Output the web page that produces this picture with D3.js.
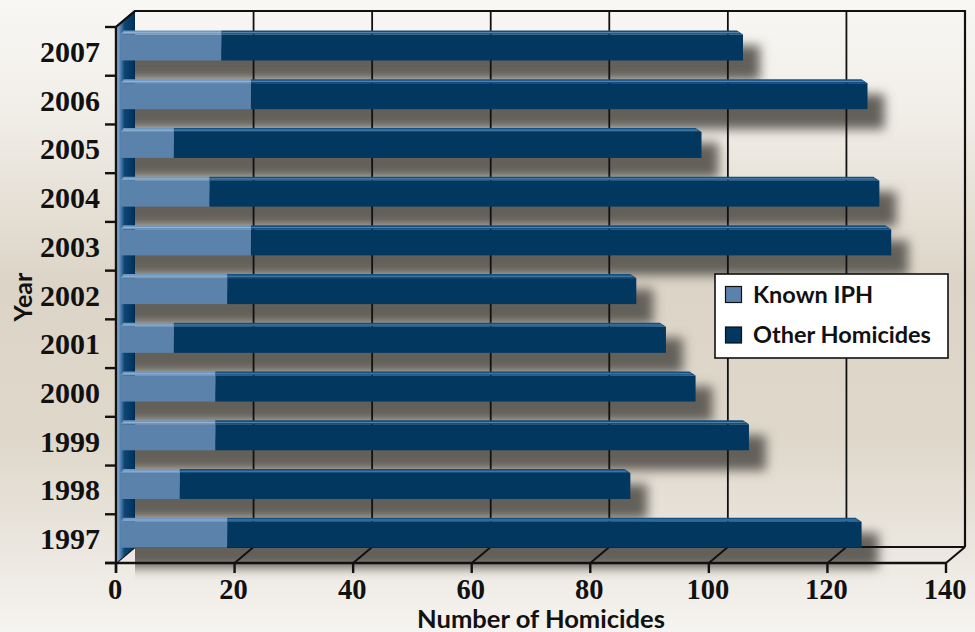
<!DOCTYPE html>
<html>
<head>
<meta charset="utf-8">
<script src="https://cdn.jsdelivr.net/npm/d3@7"></script>
<style>
  html, body { margin: 0; padding: 0; background: #eee9e1; }
  svg { display: block; }
</style>
</head>
<body>
<svg id="chart" width="975" height="632"></svg>
<script>
// ---- data ----
const years = ["1997","1998","1999","2000","2001","2002","2003","2004","2005","2006","2007"];
const knownIPH = [18, 10, 16, 16, 9, 18, 22, 15, 9, 22, 17];
const otherHomicides = [107, 76, 90, 81, 83, 69, 108, 113, 89, 104, 88];
const xTicks = [0, 20, 40, 60, 80, 100, 120, 140];
const seriesNames = ["Known IPH", "Other Homicides"];
const xTitle = "Number of Homicides";
const yTitle = "Year";

// ---- layout ----
const W = 975, H = 632;
const FX0 = 116, FX1 = 946, FTOP = 27, FBOT = 563;
const DX = 19, DY = 16;            // depth offset of back wall
const BAR_DX = 4.5, BAR_DY = 3.9;  // depth position of the bars
const BAR_H = 26, TOP_D = 4;
const lightBlue = "#5b82aa", darkBlue = "#02375f";

const svg = d3.select("#chart");
const defs = svg.append("defs");

const x = d3.scaleLinear().domain([0, 140]).range([FX0, FX1]);
const xb = d3.scaleLinear().domain([0, 140]).range([FX0 + BAR_DX, FX1 + BAR_DX]);
const y = d3.scaleBand().domain(years.slice().reverse()).range([FTOP, FBOT]);

const rows = years.map((yr, i) => ({ year: yr, ipH: knownIPH[i], other: otherHomicides[i], total: knownIPH[i] + otherHomicides[i] }));
const stack = d3.stack().keys(["ipH", "other"])(rows);

// background gradient
const bg = defs.append("linearGradient").attr("id", "bg").attr("x1", 0).attr("y1", 0).attr("x2", 0).attr("y2", 1);
[[0, "#f8f7f4"], [0.18, "#f1eee8"], [0.45, "#dcd4c6"], [0.7, "#dfd8cb"], [0.88, "#ece8e1"], [1, "#f6f4f0"]]
  .forEach(([o, c]) => bg.append("stop").attr("offset", o).attr("stop-color", c));
svg.append("rect").attr("width", W).attr("height", H).attr("fill", "url(#bg)");

// wall gradient
const wg = defs.append("linearGradient").attr("id", "wall").attr("gradientUnits", "userSpaceOnUse")
  .attr("x1", FX0).attr("y1", 0).attr("x2", FX0 + DX).attr("y2", 0);
[[0, "#a9c5e0"], [0.12, "#7aa0c8"], [0.3, "#3f6f9d"], [0.45, "#0c4574"], [0.9, "#02355f"], [1, "#01294b"]]
  .forEach(([o, c]) => wg.append("stop").attr("offset", o).attr("stop-color", c));

// shadow filter + clip
defs.append("filter").attr("id", "blur").attr("x", "-20%").attr("y", "-100%").attr("width", "140%").attr("height", "300%")
  .append("feGaussianBlur").attr("stdDeviation", 5.5);
defs.append("clipPath").attr("id", "wallClip").append("rect")
  .attr("x", FX0 + DX).attr("y", 0).attr("width", W).attr("height", H);

// ---- shadows ----
svg.append("g").attr("clip-path", "url(#wallClip)")
  .append("g").attr("filter", "url(#blur)")
  .selectAll("rect").data(rows).join("rect")
  .attr("x", d => xb(0))
  .attr("y", d => y(d.year) + y.bandwidth() / 2 - BAR_DY - BAR_H / 2 + 11)
  .attr("width", d => xb(d.total) - xb(0) + 17)
  .attr("height", BAR_H + 9)
  .attr("fill", "#64605a")
  .attr("opacity", 1);

// ---- back wall & gridlines ----
const lines = svg.append("g").attr("stroke", "#111").attr("fill", "none");
lines.append("path").attr("stroke-width", 2.2)
  .attr("d", `M${FX0},${FTOP}L${FX0 + DX},${FTOP - DY}L${FX1 + DX},${FTOP - DY}L${FX1 + DX},${FBOT - DY}`);
lines.selectAll(".grid").data(xTicks.filter(t => t > 0 && t < 140)).join("line")
  .attr("class", "grid").attr("stroke-width", 1.8)
  .attr("x1", d => x(d) + DX).attr("x2", d => x(d) + DX)
  .attr("y1", FTOP - DY).attr("y2", FBOT - DY);
// floor
lines.append("line").attr("stroke-width", 1.8)
  .attr("x1", FX0 + DX).attr("x2", FX1 + DX).attr("y1", FBOT - DY).attr("y2", FBOT - DY);
lines.selectAll(".diag").data(xTicks).join("line")
  .attr("class", "diag").attr("stroke-width", 2)
  .attr("x1", d => x(d)).attr("y1", FBOT)
  .attr("x2", d => x(d) + DX).attr("y2", FBOT - DY);

// ---- left wall ----
svg.append("path")
  .attr("d", `M${FX0},${FTOP}L${FX0 + DX},${FTOP - DY}L${FX0 + DX},${FBOT - DY}L${FX0},${FBOT}Z`)
  .attr("fill", "url(#wall)");
svg.append("path").attr("stroke", "#111").attr("stroke-width", 2.2).attr("fill", "none")
  .attr("d", `M${FX0},${FTOP}L${FX0 + DX},${FTOP - DY}`);

// ---- front axes ----
const ax = svg.append("g").attr("stroke", "#111").attr("stroke-width", 2.4);
ax.append("line").attr("x1", FX0).attr("x2", FX0).attr("y1", FTOP).attr("y2", FBOT + 10);
ax.append("line").attr("x1", FX0 - 11).attr("x2", FX1).attr("y1", FBOT).attr("y2", FBOT);
ax.selectAll(".yt").data(years.map(yr => y(yr)).concat([FBOT])).join("line")
  .attr("class", "yt").attr("x1", FX0 - 11).attr("x2", FX0).attr("y1", d => d).attr("y2", d => d);
ax.selectAll(".xt").data(xTicks).join("line")
  .attr("class", "xt").attr("x1", d => x(d)).attr("x2", d => x(d)).attr("y1", FBOT).attr("y2", FBOT + 10);

// ---- bars ----
const colors = [lightBlue, darkBlue];
const topColors = ["#6f97bf", "#134f80"];
const hiColors = ["#8fb0d0", "#4f81ab"];
const barG = svg.append("g");
stack.forEach((layer, k) => {
  const g = barG.append("g");
  layer.forEach(seg => {
    const d = seg.data;
    const top = y(d.year) + y.bandwidth() / 2 - BAR_DY - BAR_H / 2;
    const x0 = xb(seg[0]), x1 = xb(seg[1]);
    const isEnd = k === stack.length - 1;
    const isStart = k === 0;
    const l0 = x0 + (isStart ? 3 : 0);
    const r0 = x1 - (isEnd ? 6 : 0);
    g.append("path")
      .attr("d", `M${x0},${top}L${l0},${top - TOP_D}L${r0},${top - TOP_D}L${x1},${top}Z`)
      .attr("fill", topColors[k]);
    g.append("line").attr("x1", l0).attr("x2", r0 + (isEnd ? 2 : 0))
      .attr("y1", top - TOP_D + 2.2).attr("y2", top - TOP_D + 2.2)
      .attr("stroke", hiColors[k]).attr("stroke-width", 1.1);
    g.append("rect").attr("x", x0).attr("y", top).attr("width", x1 - x0).attr("height", BAR_H)
      .attr("fill", colors[k]);
  });
});

// ---- text ----
function fit(sel, target, base) {
  sel.attr("font-size", base);
  const len = sel.node().getComputedTextLength();
  sel.attr("font-size", base * target / len);
}
const serif = "'Liberation Serif', 'Times New Roman', serif";
const sans = "Lato, 'Open Sans', sans-serif";

svg.append("g").selectAll("text").data(years).join("text")
  .attr("x", 100).attr("y", d => y(d) + y.bandwidth() / 2 + 10.5)
  .attr("text-anchor", "end").attr("font-family", serif).attr("font-weight", "bold")
  .attr("font-size", 30).attr("fill", "#111").text(d => d);

svg.append("g").selectAll("text").data(xTicks).join("text")
  .attr("x", d => x(d) - 1).attr("y", 598.5)
  .attr("text-anchor", "middle").attr("font-family", serif).attr("font-weight", "bold")
  .attr("font-size", 28.5).attr("fill", "#111").text(d => d);

const xt = svg.append("text").attr("x", 541).attr("y", 628).attr("text-anchor", "middle")
  .attr("font-family", sans).attr("font-weight", "bold").attr("fill", "#111").text(xTitle);
fit(xt, 248, 24);

const yt = svg.append("text").attr("transform", "translate(32,297) rotate(-90)").attr("text-anchor", "middle")
  .attr("font-family", sans).attr("font-weight", "bold").attr("fill", "#111").text(yTitle);
fit(yt, 49, 22);

// ---- legend ----
const lg = svg.append("g");
lg.append("rect").attr("x", 715).attr("y", 274).attr("width", 233).attr("height", 84)
  .attr("fill", "#fff").attr("stroke", "#111").attr("stroke-width", 1.6);
const items = lg.selectAll("g.item").data(seriesNames).join("g").attr("class", "item")
  .attr("transform", (d, i) => `translate(0,${i * 40.5})`);
items.append("rect").attr("x", 725.5).attr("y", 286.5).attr("width", 16).attr("height", 16)
  .attr("fill", (d, i) => colors[i]).attr("stroke", "#111").attr("stroke-width", 1.2);
const lt = items.append("text").attr("x", 753).attr("y", 302.5)
  .attr("font-family", sans).attr("font-weight", "bold").attr("fill", "#111").text(d => d);
const otherNode = lt.filter((d, i) => i === 1);
otherNode.attr("font-size", 24);
const fs = 24 * 178 / otherNode.node().getComputedTextLength();
lt.attr("font-size", fs);
</script>
</body>
</html>
